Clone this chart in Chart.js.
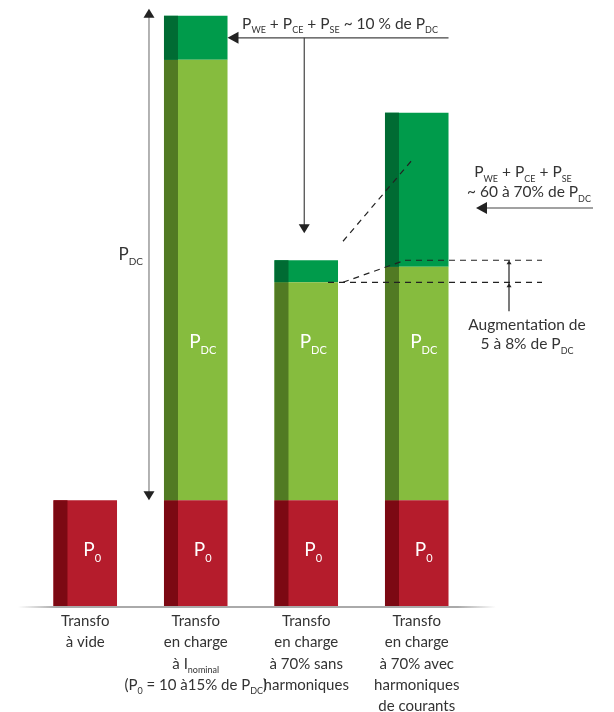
<!DOCTYPE html>
<html>
<head>
<meta charset="utf-8">
<script src="https://cdn.jsdelivr.net/npm/chart.js@4"></script>
<style>
  html, body { margin: 0; padding: 0; background: #fff; }
  #wrap { width: 614px; height: 712px; position: relative; }
</style>
</head>
<body>
<div id="wrap"><canvas id="chart"></canvas></div>
<script>
// values (P_DC at nominal load = 100)
const categories = ['Transfo à vide', 'Transfo en charge à I nominal', 'Transfo en charge à 70% sans harmoniques', 'Transfo en charge à 70% avec harmoniques de courants'];
const categoryLines = [
  ['Transfo', 'à vide'],
  ['Transfo', 'en charge', 'à I_{nominal}', '(P_{0} = 10 à15% de P_{DC})'],
  ['Transfo', 'en charge', 'à 70% sans', 'harmoniques'],
  ['Transfo', 'en charge', 'à 70% avec', 'harmoniques', 'de courants']
];
const p0Values = [24, 24, 24, 24];
const pdcValues = [null, 100, 49.5, 53];
const pweValues = [null, 10, 5, 35];
const segmentLabels = ['P_{0}', 'P_{DC}', null];

const FONT = 'Lato, "Open Sans", sans-serif';
const TEXT = '#333333';

// draws text where _{..} parts are subscripts
function drawRich(ctx, str, x, y, size, color, align) {
  const parts = [];
  const re = /_\{([^}]*)\}/g;
  let last = 0, m;
  while ((m = re.exec(str))) {
    if (m.index > last) parts.push({ t: str.slice(last, m.index), sub: false });
    parts.push({ t: m[1], sub: true });
    last = re.lastIndex;
  }
  if (last < str.length) parts.push({ t: str.slice(last), sub: false });
  const subSize = Math.round(size * 0.6);
  let total = 0;
  parts.forEach(p => {
    ctx.font = (p.sub ? subSize : size) + 'px ' + FONT;
    p.w = ctx.measureText(p.t).width;
    total += p.w;
  });
  let cx = align === 'left' ? x : align === 'right' ? x - total : x - total / 2;
  ctx.save();
  ctx.fillStyle = color;
  ctx.textAlign = 'left';
  ctx.textBaseline = 'alphabetic';
  parts.forEach(p => {
    ctx.font = (p.sub ? subSize : size) + 'px ' + FONT;
    ctx.fillText(p.t, cx, p.sub ? y + size * 0.3 : y);
    cx += p.w;
  });
  ctx.restore();
}

function arrowHead(ctx, x, y, dir, w, h, color) {
  ctx.save();
  ctx.fillStyle = color;
  ctx.beginPath();
  if (dir === 'left') { ctx.moveTo(x, y); ctx.lineTo(x + h, y - w / 2); ctx.lineTo(x + h, y + w / 2); }
  if (dir === 'down') { ctx.moveTo(x, y); ctx.lineTo(x - w / 2, y - h); ctx.lineTo(x + w / 2, y - h); }
  if (dir === 'up') { ctx.moveTo(x, y); ctx.lineTo(x - w / 2, y + h); ctx.lineTo(x + w / 2, y + h); }
  ctx.closePath();
  ctx.fill();
  ctx.restore();
}

function line(ctx, x1, y1, x2, y2, color, width, dash) {
  ctx.save();
  ctx.strokeStyle = color;
  ctx.lineWidth = width;
  ctx.setLineDash(dash || []);
  ctx.beginPath();
  ctx.moveTo(x1, y1);
  ctx.lineTo(x2, y2);
  ctx.stroke();
  ctx.restore();
}

const stripColors = ['#7c0913', '#517a23', '#006b33'];

const barDecor = {
  id: 'barDecor',
  afterDatasetsDraw(chart) {
    const ctx = chart.ctx;
    const y = chart.scales.y;
    chart.data.datasets.forEach((ds, di) => {
      chart.getDatasetMeta(di).data.forEach((bar, i) => {
        if (ds.data[i] == null) return;
        const left = bar.x - bar.width / 2;
        const top = Math.min(bar.y, bar.base);
        const h = Math.abs(bar.base - bar.y);
        ctx.fillStyle = stripColors[di];
        ctx.fillRect(left, top, 14, h);
        // segment label
        const lbl = segmentLabels[di];
        if (lbl) {
          const ly = di === 0 ? y.getPixelForValue(11.3) : y.getPixelForValue(58.6);
          drawRich(ctx, lbl, left + 14 + (bar.width - 14) / 2, ly, 19, '#ffffff', 'center');
        }
      });
    });
  }
};

const annotations = {
  id: 'annotations',
  afterDraw(chart) {
    const ctx = chart.ctx;
    const ys = chart.scales.y;
    const xs = chart.scales.x;
    const ca = chart.chartArea;
    const bars = i => chart.getDatasetMeta(2).data[i];
    const stackTop = i => ys.getPixelForValue(p0Values[i] + (pdcValues[i] || 0) + (pweValues[i] || 0));
    const pdcTop = i => ys.getPixelForValue(p0Values[i] + (pdcValues[i] || 0));

    // baseline
    const g = ctx.createLinearGradient(ca.left - 12, 0, ca.right + 24, 0);
    g.addColorStop(0, 'rgba(170,170,170,0)');
    g.addColorStop(0.08, 'rgba(170,170,170,1)');
    g.addColorStop(0.92, 'rgba(170,170,170,1)');
    g.addColorStop(1, 'rgba(170,170,170,0)');
    ctx.save();
    ctx.fillStyle = g;
    ctx.fillRect(ca.left - 12, ca.bottom, ca.right - ca.left + 36, 2);
    ctx.restore();

    // category labels
    categoryLines.forEach((lines, i) => {
      const cx = xs.getPixelForValue(i);
      lines.forEach((t, k) => drawRich(ctx, t, cx, ca.bottom + 20 + k * 21.3, 15, TEXT, 'center'));
    });

    // P_DC double arrow, left of bar 2
    const b1 = bars(1);
    const ax = b1.x - b1.width / 2 - 15;
    const yTop = stackTop(1) - 7, yBot = ys.getPixelForValue(p0Values[1]);
    line(ctx, ax, yTop + 8, ax, yBot - 8, '#9a9a9a', 1.5);
    arrowHead(ctx, ax, yTop, 'up', 11, 9, '#222');
    arrowHead(ctx, ax, yBot, 'down', 11, 9, '#222');
    drawRich(ctx, 'P_{DC}', ax - 6, (yTop + yBot) / 2 + 5, 17, TEXT, 'right');

    // top annotation: 10 % of P_DC
    const b3 = bars(3), b2 = bars(2);
    const yA = (stackTop(1) + pdcTop(1)) / 2;
    const xRight = b3.x + b3.width / 2;
    const xLeft = b1.x + b1.width / 2;
    line(ctx, xRight, yA, xLeft + 10, yA, '#444', 1.2);
    arrowHead(ctx, xLeft, yA, 'left', 12, 11, '#222');
    drawRich(ctx, 'P_{WE} + P_{CE} + P_{SE} ~ 10 % de P_{DC}', 340, yA - 9, 15.5, TEXT, 'center');
    const vx = b2.x - 2;
    const tipY = stackTop(2) - 27;
    line(ctx, vx, yA, vx, tipY - 8, '#444', 1.2);
    arrowHead(ctx, vx, tipY, 'down', 11, 9, '#222');

    // dashed guides between bar 3 and bar 4
    const dash = [6, 5];
    const upY = stackTop(2), loY = pdcTop(2);
    const rEdge = b2.x + b2.width / 2;
    const l4 = b3.x - b3.width / 2;
    line(ctx, rEdge + 5, stackTop(2) - 19, l4 + 28, ys.getPixelForValue(101.5), '#222', 1.2, dash);
    line(ctx, rEdge + 5, loY, l4 + 20, upY, '#222', 1.2, dash);
    line(ctx, l4 + 20, upY, 542, upY, '#222', 1.2, dash);
    line(ctx, rEdge - 10, loY, 542, loY, '#222', 1.2, dash);

    // increase arrow
    const ix = 509;
    line(ctx, ix, upY + 3, ix, loY + 29, '#222', 1.2);
    arrowHead(ctx, ix, upY, 'up', 5, 4, '#222');
    arrowHead(ctx, ix, loY + 1, 'up', 5, 4, '#222');
    drawRich(ctx, 'Augmentation de', 527, loY + 48, 15.5, TEXT, 'center');
    drawRich(ctx, '5 à 8% de P_{DC}', 527, loY + 67, 15.5, TEXT, 'center');

    // right annotation: 60 to 70 % of P_DC
    drawRich(ctx, 'P_{WE} + P_{CE} + P_{SE}', 523, 177, 15.5, TEXT, 'center');
    drawRich(ctx, '~ 60 à 70% de P_{DC}', 529, 197, 15.5, TEXT, 'center');
    line(ctx, 593, 208, 486, 208, '#444', 1.2);
    arrowHead(ctx, 476, 208, 'left', 12, 11, '#222');
  }
};

new Chart(document.getElementById('chart'), {
  type: 'bar',
  data: {
    labels: categories,
    datasets: [
      { label: 'P0', data: p0Values, backgroundColor: '#b51c2c' },
      { label: 'PDC', data: pdcValues, backgroundColor: '#86bc3e' },
      { label: 'PWE + PCE + PSE', data: pweValues, backgroundColor: '#009b4b' }
    ]
  },
  options: {
    responsive: true, maintainAspectRatio: false,
    animation: false,
    layout: { padding: { top: 7, bottom: 106, left: 30, right: 142 } },
    datasets: { bar: { categoryPercentage: 1, barPercentage: 0.575, borderWidth: 0 } },
    plugins: { legend: { display: false }, tooltip: { enabled: false } },
    scales: {
      x: { stacked: true, display: false },
      y: { stacked: true, display: false, min: 0, max: 136 }
    }
  },
  plugins: [barDecor, annotations]
});
</script>
</body>
</html>
